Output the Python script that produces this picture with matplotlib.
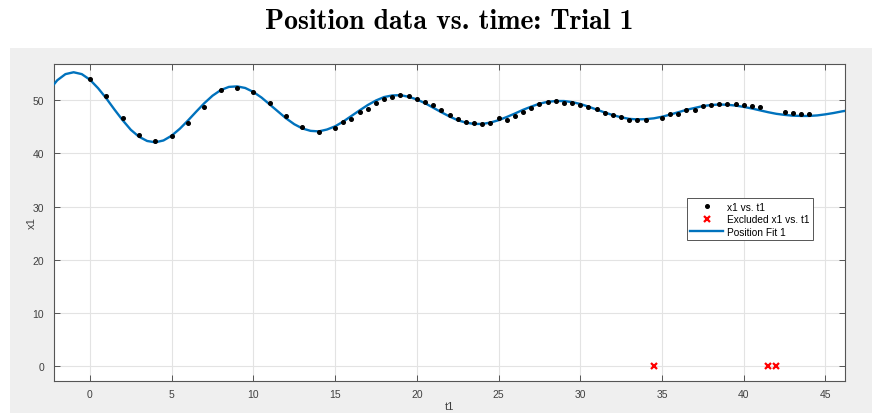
import os

import matplotlib
matplotlib.use('Agg')
import matplotlib.pyplot as plt
from matplotlib import font_manager as fm
from matplotlib.patches import Rectangle

# measured points (t1, x1)
t_data = [0, 1, 2, 3, 4, 5, 6, 7, 8, 9, 10, 11, 12, 13, 14,
          15, 15.5, 16, 16.5, 17, 17.5, 18, 18.5, 19, 19.5,
          20, 20.5, 21, 21.5, 22, 22.5, 23, 23.5, 24, 24.5,
          25, 25.5, 26, 26.5, 27, 27.5, 28, 28.5, 29, 29.5,
          30, 30.5, 31, 31.5, 32, 32.5, 33, 33.5, 34,
          35, 35.5, 36, 36.5, 37, 37.5, 38, 38.5, 39, 39.5,
          40, 40.5, 41, 42.5, 43, 43.5, 44]
x_data = [54.0, 50.7, 46.6, 43.4, 42.3, 43.2, 45.7, 48.6, 51.8, 52.2, 51.5, 49.5, 47.0, 45.0, 44.0,
          44.7, 45.8, 46.4, 47.7, 48.3, 49.4, 50.2, 50.6, 51.0, 50.8,
          50.2, 49.7, 49.1, 48.1, 47.2, 46.4, 45.8, 45.6, 45.4, 45.7,
          46.6, 46.2, 46.9, 47.7, 48.4, 49.3, 49.7, 49.8, 49.5, 49.5,
          49.1, 48.7, 48.3, 47.6, 47.2, 46.8, 46.3, 46.2, 46.3,
          46.7, 47.4, 47.4, 48.1, 48.2, 48.8, 49.1, 49.2, 49.2, 49.2,
          49.1, 48.9, 48.6, 47.7, 47.5, 47.4, 47.4]

# points excluded from the fit
t_excl = [34.5, 41.5, 42]
x_excl = [0, 0, 0]

# fitted curve, every 0.5
t_fit = [-2.2, -2.0, -1.5, -1.0, -0.5, 0.0, 0.5, 1.0, 1.5, 2.0, 2.5, 3.0, 3.5, 4.0, 4.5,
         5.0, 5.5, 6.0, 6.5, 7.0, 7.5, 8.0, 8.5, 9.0, 9.5, 10.0, 10.5, 11.0, 11.5,
         12.0, 12.5, 13.0, 13.5, 14.0, 14.5, 15.0, 15.5, 16.0, 16.5, 17.0, 17.5,
         18.0, 18.5, 19.0, 19.5, 20.0, 20.5, 21.0, 21.5, 22.0, 22.5, 23.0, 23.5,
         24.0, 24.5, 25.0, 25.5, 26.0, 26.5, 27.0, 27.5, 28.0, 28.5, 29.0, 29.5,
         30.0, 30.5, 31.0, 31.5, 32.0, 32.5, 33.0, 33.5, 34.0, 34.5, 35.0, 35.5,
         36.0, 36.5, 37.0, 37.5, 38.0, 38.5, 39.0, 39.5, 40.0, 40.5, 41.0, 41.5,
         42.0, 42.5, 43.0, 43.5, 44.0, 44.5, 45.0, 45.5, 46.0, 46.2]
x_fit = [52.95, 53.7, 54.85, 55.2, 54.85, 53.8, 52.2, 50.3, 48.2, 46.2, 44.4, 43.1, 42.3, 42.05, 42.4,
         43.3, 44.6, 46.15, 47.8, 49.4, 50.8, 51.85, 52.45, 52.55, 52.25, 51.5, 50.45, 49.15, 47.85,
         46.55, 45.45, 44.65, 44.2, 44.1, 44.45, 45.05, 45.95, 47.0, 48.05, 49.05, 49.9,
         50.55, 50.85, 50.9, 50.6, 50.1, 49.4, 48.55, 47.7, 46.9, 46.2, 45.75, 45.5,
         45.5, 45.75, 46.2, 46.8, 47.45, 48.15, 48.75, 49.3, 49.65, 49.8, 49.8, 49.6,
         49.25, 48.75, 48.2, 47.65, 47.15, 46.75, 46.45, 46.35, 46.4, 46.55, 46.85, 47.25,
         47.7, 48.15, 48.5, 48.85, 49.05, 49.15, 49.1, 48.95, 48.7, 48.4, 48.05, 47.7,
         47.4, 47.2, 47.05, 47.0, 47.0, 47.1, 47.3, 47.55, 47.85, 47.95]

x_ticks = [0, 5, 10, 15, 20, 25, 30, 35, 40, 45]
y_ticks = [0, 10, 20, 30, 40, 50]

TICK_FONT = ['Liberation Sans Narrow', 'Liberation Sans', 'DejaVu Sans']
LEGEND_FONT = ['Liberation Sans', 'DejaVu Sans']


def main():
    fig = plt.figure(figsize=(8.72, 4.14), dpi=100)
    fig.patch.set_facecolor('white')

    # grey matlab figure panel
    fig.patches.append(Rectangle((10 / 872, 0), 1, 1 - 49 / 414, transform=fig.transFigure,
                                 facecolor='#efefef', edgecolor='none', zorder=-1))

    ax = fig.add_axes([54 / 872, 32 / 414, 791 / 872, 317 / 414])
    ax.set_facecolor('white')

    ax.plot(t_data, x_data, 'o', color='black', markersize=2.6, label='x1 vs. t1', zorder=4)
    ax.plot(t_excl, x_excl, 'x', color='#ff0000', markersize=5, markeredgewidth=1.6,
            label='Excluded x1 vs. t1', zorder=4)
    ax.plot(t_fit, x_fit, '-', color='#0072bd', linewidth=1.7, label='Position Fit 1', zorder=3)

    ax.set_xlim(-2.2, 46.2)
    ax.set_ylim(-2.75, 56.75)
    ax.set_xticks(x_ticks)
    ax.set_yticks(y_ticks)

    ax.grid(True, color='#e3e3e3', linewidth=0.8)
    ax.set_axisbelow(True)
    for s in ax.spines.values():
        s.set_color('#555555')
        s.set_linewidth(0.8)
    ax.tick_params(direction='in', length=4, width=0.7, color='#555555',
                   top=True, right=True, labelcolor='#404040', labelsize=7.5)
    ax.tick_params(axis='x', pad=6)
    ax.tick_params(axis='y', pad=7)
    for lab in ax.get_xticklabels() + ax.get_yticklabels():
        lab.set_family(TICK_FONT)

    ax.set_xlabel('t1', family=TICK_FONT, fontsize=8, color='#404040', labelpad=1)
    ax.set_ylabel('x1', family=TICK_FONT, fontsize=8, color='#404040', labelpad=-3)

    cmb = fm.FontProperties(fname=os.path.join(matplotlib.get_data_path(), 'fonts', 'ttf', 'cmb10.ttf'),
                            size=20)
    fig.text(449.5 / 872, 1 - 22 / 414, 'Position data vs. time: Trial 1', fontproperties=cmb,
             ha='center', va='center', color='black')

    leg = ax.legend(loc='upper left', bbox_to_anchor=(0.800, 0.577), prop={'family': LEGEND_FONT, 'size': 7.3},
                    fancybox=False, framealpha=1, edgecolor='#555555', handlelength=3.2,
                    handletextpad=0.4, borderpad=0.35, labelspacing=0.25, borderaxespad=0)
    leg.get_frame().set_linewidth(0.7)

    fig.savefig('out.png', dpi=100)


if __name__ == '__main__':
    main()
